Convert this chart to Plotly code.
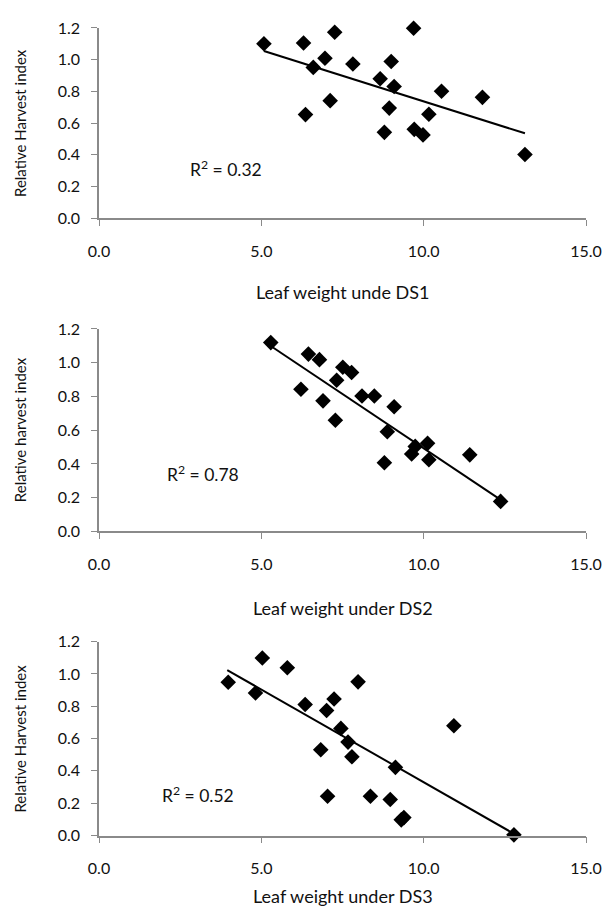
import plotly.graph_objects as go

# ---------------- data ----------------
ds1_x = [5.08, 6.30, 7.26, 9.69, 6.96, 6.60, 7.82, 9.00, 8.66, 9.09,
         10.55, 11.81, 7.12, 8.94, 6.36, 10.16, 8.79, 9.71, 9.98, 13.12]
ds1_y = [1.100, 1.105, 1.173, 1.198, 1.009, 0.951, 0.972, 0.988, 0.879, 0.830,
         0.800, 0.762, 0.741, 0.694, 0.653, 0.655, 0.541, 0.560, 0.525, 0.401]
ds1_trend_x = [5.08, 13.12]
ds1_trend_y = [1.054, 0.535]

ds2_x = [5.29, 6.45, 6.79, 6.22, 7.51, 7.78, 7.32, 6.90, 7.28, 8.10,
         8.48, 9.09, 8.88, 8.79, 9.74, 9.63, 10.12, 10.16, 11.42, 12.37]
ds2_y = [1.119, 1.051, 1.018, 0.843, 0.973, 0.942, 0.896, 0.774, 0.659, 0.803,
         0.803, 0.739, 0.591, 0.407, 0.504, 0.459, 0.522, 0.425, 0.454, 0.178]
ds2_trend_x = [5.29, 12.34]
ds2_trend_y = [1.099, 0.192]

ds3_x = [3.98, 5.03, 5.80, 4.82, 7.98, 6.35, 7.24, 7.01, 7.45, 7.67,
         6.83, 7.79, 10.93, 9.13, 7.04, 8.36, 8.97, 9.31, 9.39, 12.78]
ds3_y = [0.949, 1.099, 1.038, 0.882, 0.951, 0.811, 0.845, 0.774, 0.663, 0.578,
         0.531, 0.487, 0.679, 0.422, 0.243, 0.243, 0.223, 0.097, 0.111, 0.004]
ds3_trend_x = [3.95, 12.70]
ds3_trend_y = [1.024, 0.020]

r2_labels = ["R<sup>2</sup> = 0.32", "R<sup>2</sup> = 0.78", "R<sup>2</sup> = 0.52"]
r2_pos_x = [2.74, 2.03, 1.88]
r2_pos_y = [0.31, 0.343, 0.255]
x_titles = ["Leaf weight unde DS1", "Leaf weight under DS2", "Leaf weight under DS3"]
y_titles = ["Relative Harvest index", "Relative harvest index", "Relative Harvest index"]
x_ticks = [0, 5, 10, 15]
y_ticks = [0, 0.2, 0.4, 0.6, 0.8, 1.0, 1.2]

# ---------------- layout geometry ----------------
W, H = 607, 916
ML, MR = 99, 21
panels_px = [(18.3, 212.5), (325.7, 532.5), (645.0, 843.0)]   # (top, bottom) in px
xtitle_px = [288, 611, 905]
ytitle_x_px = 20

FONT = "Lato, 'Open Sans', Arial, sans-serif"
AXIS_COL = "#8a8a8a"
TXT_COL = "#111111"

fig = go.Figure()

series = [(ds1_x, ds1_y, ds1_trend_x, ds1_trend_y),
          (ds2_x, ds2_y, ds2_trend_x, ds2_trend_y),
          (ds3_x, ds3_y, ds3_trend_x, ds3_trend_y)]

annotations = []
for i, (xs, ys, tx, ty) in enumerate(series):
    ax = "" if i == 0 else str(i + 1)
    xref, yref = "x" + ax, "y" + ax
    fig.add_trace(go.Scatter(x=tx, y=ty, mode="lines",
                             line=dict(color="black", width=2),
                             xaxis=xref, yaxis=yref, showlegend=False,
                             cliponaxis=False, hoverinfo="skip"))
    fig.add_trace(go.Scatter(x=xs, y=ys, mode="markers",
                             marker=dict(symbol="diamond", size=12, color="black"),
                             xaxis=xref, yaxis=yref, showlegend=False,
                             cliponaxis=False))
    top, bot = panels_px[i]
    dom = [1 - bot / H, 1 - top / H]
    axis_common = dict(showline=True, linecolor=AXIS_COL, linewidth=1.5,
                       ticks="outside", tickcolor=AXIS_COL, ticklen=6, tickwidth=1.2,
                       showgrid=False, zeroline=False,
                       tickfont=dict(family=FONT, size=16, color=TXT_COL))
    fig.update_layout(**{
        "xaxis" + ax: dict(range=[0, 15], tickvals=x_ticks, tickformat=".1f",
                           anchor=yref, ticklabelstandoff=12, **axis_common),
        "yaxis" + ax: dict(range=[0, 1.2], tickvals=y_ticks, tickformat=".1f",
                           domain=dom, anchor=xref, ticklabelstandoff=8,
                           **axis_common),
    })
    annotations.append(dict(x=r2_pos_x[i], y=r2_pos_y[i], xref=xref, yref=yref,
                            text=r2_labels[i], showarrow=False, xanchor="left",
                            yanchor="middle",
                            font=dict(family=FONT, size=17.5, color=TXT_COL)))
    annotations.append(dict(x=0.5, y=1 - xtitle_px[i] / H, xref="paper", yref="paper",
                            text=x_titles[i], showarrow=False, xanchor="center",
                            yanchor="middle",
                            font=dict(family=FONT, size=18, color=TXT_COL)))
    annotations.append(dict(x=(ytitle_x_px - ML) / (W - ML - MR), y=(dom[0] + dom[1]) / 2,
                            xref="paper", yref="paper", text=y_titles[i],
                            showarrow=False, textangle=-90, xanchor="center",
                            yanchor="middle",
                            font=dict(family=FONT, size=15, color=TXT_COL)))

fig.update_layout(width=W, height=H, margin=dict(l=ML, r=MR, t=0, b=0),
                  paper_bgcolor="white", plot_bgcolor="white",
                  annotations=annotations, showlegend=False)

fig.write_html("out.html")
